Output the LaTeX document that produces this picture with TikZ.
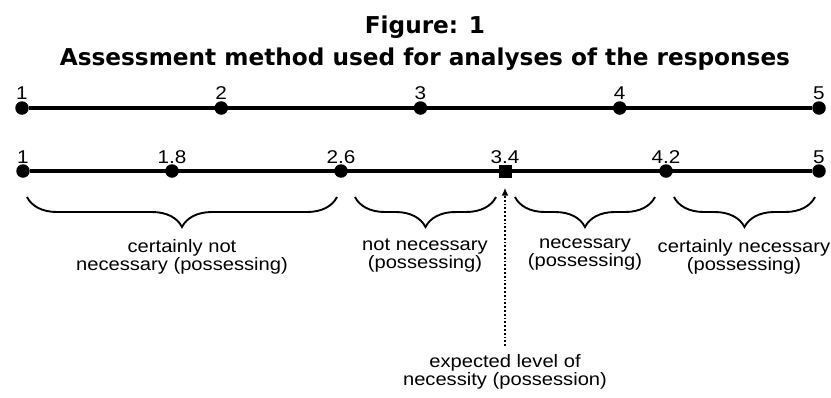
\documentclass[tikz,border=0pt]{standalone}
\usepackage{fontspec}
\setmainfont{Liberation Sans}[FakeStretch=1.12]
\newfontfamily\titlefont{DejaVu Sans}
\usetikzlibrary{decorations.pathreplacing,arrows.meta}

\begin{document}
\begin{tikzpicture}[x=1pt,y=-1pt,
        dot/.style={circle,fill,inner sep=0pt,minimum size=13.5pt},
        sqdot/.style={rectangle,fill,inner sep=0pt,minimum size=13pt},
        ticklbl/.style={font=\fontsize{18.5}{18}\selectfont,inner sep=0pt,anchor=base},
        axis/.style={line width=3.2pt},
        curly/.style={decorate,decoration={brace,mirror,amplitude=30pt},line width=1.9pt},
        zone/.style={font=\fontsize{18}{16}\selectfont,align=center,inner sep=0pt,anchor=north}]
        \useasboundingbox (0,0) rectangle (831,397);
        % title
        \node[font=\titlefont\bfseries\fontsize{23.2}{32}\selectfont,align=center,anchor=base]
          (title) at (425,65) {Figure: 1\\Assessment method used for analyses of the responses};
        % upper scale 1..5
        \foreach \v [count=\i from 0] in {1,2,3,4,5} {
          \node[dot] (t\v) at (22+199.25*\i,108) {};
          \node[ticklbl] (lt\v) at (22+199.25*\i,99) {\v};
        }
        \draw[axis] (t1) -- (t5);
        % lower scale, the square marks the expected level
        \foreach \n/\v/\x in {10/1/23,18/1.8/172,26/2.6/341,42/4.2/666,50/5/819} {
          \node[dot] (b\n) at (\x,171) {};
          \node[ticklbl] (lb\n) at (\x,163) {\v};
        }
        \node[sqdot] (b34) at (505,171) {};
        \node[ticklbl] (lb34) at (505,163) {3.4};
        \draw[axis] (b10) -- (b50);
        % braces
        \draw[curly] (27,197) -- (337,197);
        \draw[curly] (355,197) -- (496,197);
        \draw[curly] (515,197) -- (655,197);
        \draw[curly] (674,197) -- (815,197);
        \node[zone] (z1) at (182,239) {certainly not\\necessary (possessing)};
        \node[zone] (z2) at (425,239) {not necessary\\(possessing)};
        \node[zone] (z3) at (585,239) {necessary\\(possessing)};
        \node[zone] (z4) at (744,239) {certainly necessary\\(possessing)};
        % expected level
        \node[zone] (exp) at (505,354) {expected level of\\necessity (possession)};
        \draw[dotted,line width=1.8pt,-{Latex[length=8pt,width=7pt]},shorten <=8pt,shorten >=10pt]
          (exp.north) -- (b34.south);
      \end{tikzpicture}
\end{document}
